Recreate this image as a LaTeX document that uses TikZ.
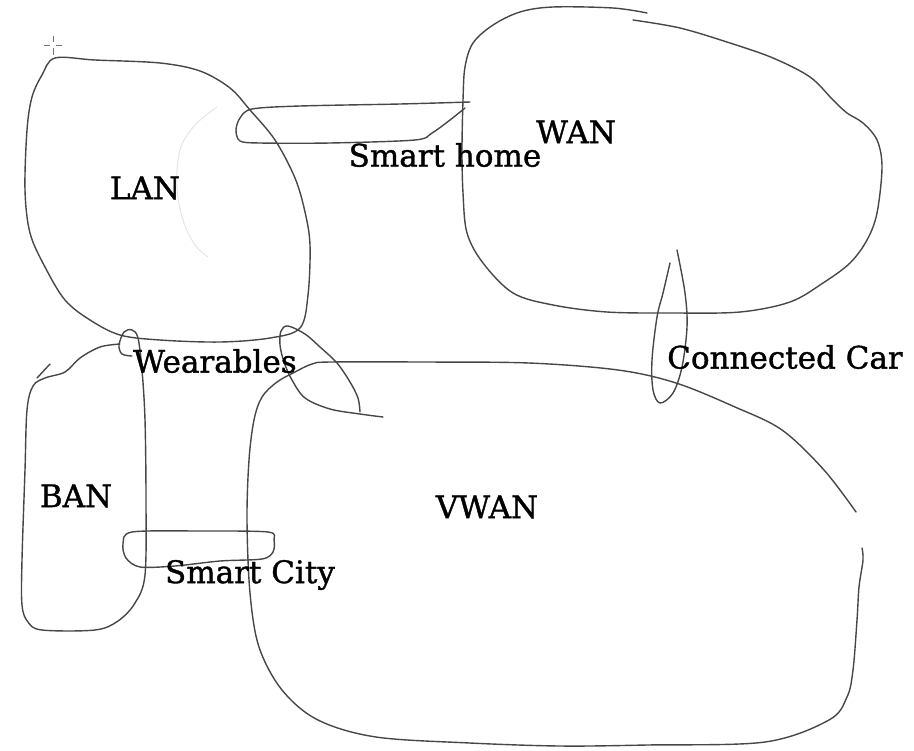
\documentclass[tikz,border=0pt]{standalone}
\usepackage{fontspec}
\newfontfamily\netfont[FakeBold=1.2]{DejaVu Serif}
\usetikzlibrary{positioning}

\begin{document}
\begin{tikzpicture}[
    x=0.5pt, y=-0.5pt,
    every node/.style={align=center,font=\netfont\fontsize{15.5}{18}\selectfont,text=black,inner sep=0pt},
    blob/.style={draw=black!72,line width=0.7pt,line cap=round,line join=round},
    faint/.style={draw=black!10,line width=0.5pt},
    cursor/.style={draw=black!55,line width=0.4pt}
]
\useasboundingbox (0,0) rectangle (914,750);

% =====================
% CURSOR MARK
% =====================
\draw[cursor] (44,45) -- (50,45) (56,45) -- (62,45) (53,36) -- (53,42) (53,48) -- (53,55);

% =====================
% NETWORK AREAS
% =====================
% LAN
\draw[blob] plot[smooth cycle,tension=0.55] coordinates {
  (55,58) (95,60) (160,63) (200,71) (230,88) (250,110) (275,140) (295,178)
  (305,212) (310,245) (308,295) (300,328) (270,338) (220,342) (160,340)
  (120,335) (90,320) (65,300) (45,267) (30,233) (25,190) (27,130) (32,97) (42,75)};
\draw[faint] plot[smooth,tension=0.6] coordinates {
  (217,107) (195,125) (180,150) (177,187) (183,220) (195,245) (208,257)};

% WAN
\draw[blob] plot[smooth,tension=0.55] coordinates {
  (647,13) (613,8) (553,7) (520,12) (493,25) (473,43) (465,67) (463,100)
  (462,150) (463,193) (467,233) (483,263) (513,293) (553,305) (607,312)
  (673,313) (740,312) (790,302) (823,283) (850,263) (867,240) (877,213)
  (882,167) (877,140) (863,123) (847,113) (833,100) (810,77) (773,58)
  (730,43) (680,28) (633,20)};

% BAN
\draw[blob] (50,364) -- (37,378);
\draw[blob] plot[smooth,tension=0.55] coordinates {
  (120,344) (100,347) (80,358) (65,372) (45,378) (33,386) (27,410) (25,470)
  (22,560) (22,605) (28,622) (42,630) (95,630) (118,621) (135,603) (145,575)
  (146,500) (145,420) (142,370) (138,338) (132,330) (124,332) (119,345)
  (122,354) (132,356)};

% VWAN
\draw[blob] plot[smooth,tension=0.55] coordinates {
  (856,512) (824,470) (782,430) (735,407) (676,383) (618,370) (529,363)
  (420,362) (330,362) (312,364) (295,372) (277,382) (262,397) (254,420)
  (249,460) (247,520) (250,593) (259,647) (282,690) (318,720) (376,737)
  (470,743) (560,746) (647,745) (765,742) (829,720) (847,697) (853,670)
  (857,620) (859,587) (863,560) (862,548)};

% =====================
% OVERLAP LOOPS
% =====================
% smart home
\draw[blob] plot[smooth,tension=0.5] coordinates {
  (470,102) (400,104) (300,106) (252,109) (240,118) (236,130) (240,141)
  (260,143) (330,143) (415,140) (432,133) (450,120) (465,108)};

% wearables
\draw[blob] plot[smooth,tension=0.55] coordinates {
  (360,412) (358,398) (350,382) (337,363) (320,347) (305,334) (288,326)
  (281,331) (280,345) (284,362) (292,380) (305,398) (330,409) (360,414) (383,417)};

% connected car
\draw[blob] plot[smooth,tension=0.55] coordinates {
  (677,250) (685,293) (687,327) (682,367) (673,393) (660,403) (653,390)
  (652,360) (657,317) (663,293) (670,263)};

% smart city
\draw[blob] plot[smooth cycle,tension=0.5] coordinates {
  (132,532) (200,531) (268,532) (274,540) (273,552) (262,559) (220,561)
  (175,566) (140,567) (126,558) (123,544)};

% =====================
% LABELS
% =====================
\node (lan)  at (145,188) {LAN};
\node (wan)  at (576,132) {WAN};
\node (home) at (445,155) {Smart home};
\node (wear) at (215,361) {Wearables};
\node (car)  at (785,357) {Connected Car};
\node (vwan) at (487,507) {VWAN};
\node (ban)  at (76,496)  {BAN};
\node (city) at (250,575) {Smart City};

\end{tikzpicture}
\end{document}
